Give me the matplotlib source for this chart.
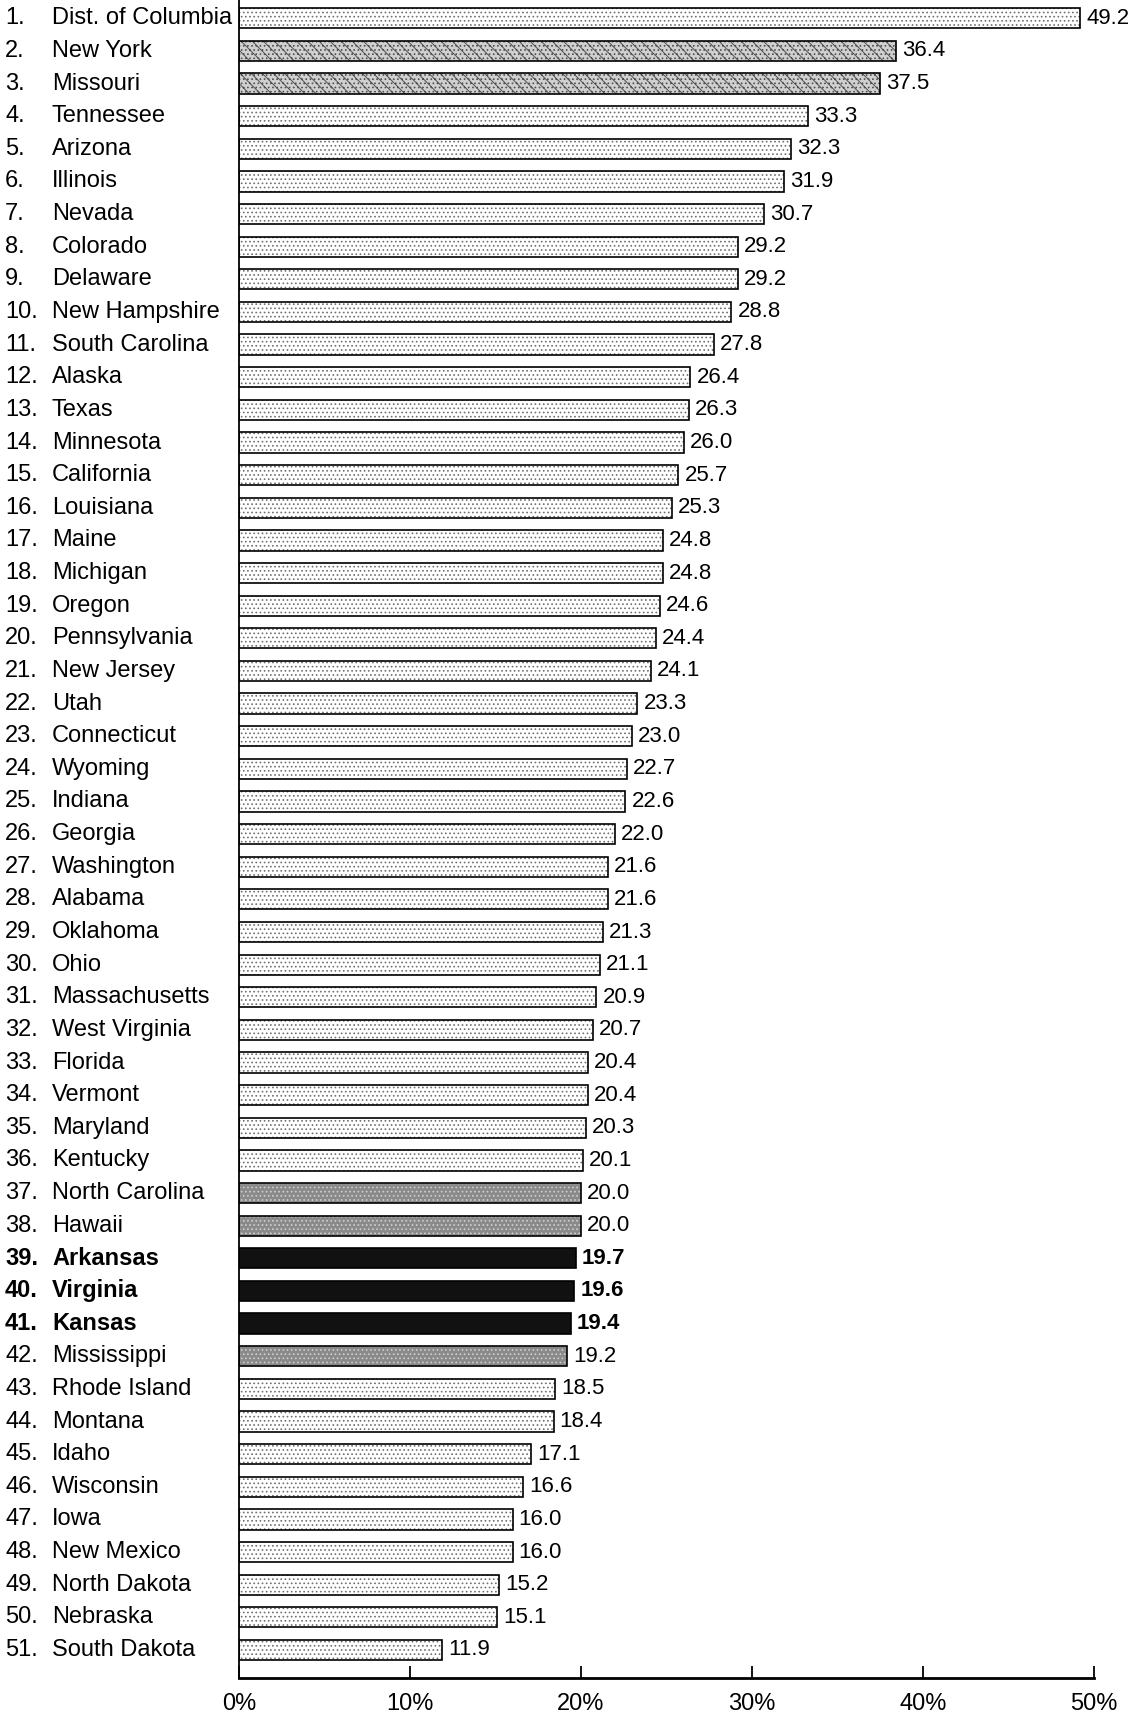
import matplotlib
matplotlib.use("Agg")
import matplotlib.pyplot as plt
from matplotlib.transforms import blended_transform_factory

#
# Data
#

states = ["Dist. of Columbia", "New York", "Missouri", "Tennessee", "Arizona", "Illinois",
          "Nevada", "Colorado", "Delaware", "New Hampshire", "South Carolina", "Alaska",
          "Texas", "Minnesota", "California", "Louisiana", "Maine", "Michigan", "Oregon",
          "Pennsylvania", "New Jersey", "Utah", "Connecticut", "Wyoming", "Indiana",
          "Georgia", "Washington", "Alabama", "Oklahoma", "Ohio", "Massachusetts",
          "West Virginia", "Florida", "Vermont", "Maryland", "Kentucky", "North Carolina",
          "Hawaii", "Arkansas", "Virginia", "Kansas", "Mississippi", "Rhode Island",
          "Montana", "Idaho", "Wisconsin", "Iowa", "New Mexico", "North Dakota",
          "Nebraska", "South Dakota"]

# bar lengths (New York's bar is drawn at ~38.4 although printed as 36.4)
values = [49.2, 38.4, 37.5, 33.3, 32.3, 31.9, 30.7, 29.2, 29.2, 28.8, 27.8, 26.4,
          26.3, 26.0, 25.7, 25.3, 24.8, 24.8, 24.6, 24.4, 24.1, 23.3, 23.0, 22.7, 22.6,
          22.0, 21.6, 21.6, 21.3, 21.1, 20.9, 20.7, 20.4, 20.4, 20.3, 20.1, 20.0,
          20.0, 19.7, 19.6, 19.4, 19.2, 18.5, 18.4, 17.1, 16.6, 16.0, 16.0, 15.2,
          15.1, 11.9]

value_labels = ["49.2", "36.4", "37.5", "33.3", "32.3", "31.9", "30.7", "29.2", "29.2",
                "28.8", "27.8", "26.4", "26.3", "26.0", "25.7", "25.3", "24.8", "24.8",
                "24.6", "24.4", "24.1", "23.3", "23.0", "22.7", "22.6", "22.0", "21.6",
                "21.6", "21.3", "21.1", "20.9", "20.7", "20.4", "20.4", "20.3", "20.1",
                "20.0", "20.0", "19.7", "19.6", "19.4", "19.2", "18.5", "18.4", "17.1",
                "16.6", "16.0", "16.0", "15.2", "15.1", "11.9"]

x_ticks = [0, 10, 20, 30, 40, 50]
x_tick_labels = ["0%", "10%", "20%", "30%", "40%", "50%"]

# shading groups: 0 light stipple, 1 denser stipple, 2 medium gray, 3 black
shade = [0] * len(states)
shade[1] = shade[2] = 1
shade[36] = shade[37] = shade[41] = 2
shade[38] = shade[39] = shade[40] = 3

#
# Figure
#

plt.rcParams['font.family'] = ['Liberation Sans', 'DejaVu Sans']
plt.rcParams['hatch.linewidth'] = 0.7

W, H = 1137, 1714
fig = plt.figure(figsize=(W / 100, H / 100), dpi=100)
ax = fig.add_axes([239 / W, 1 - 1678 / H, (1094 - 239) / W, 1678 / H])

n = len(states)
rows = list(range(n))
ax.set_xlim(0, 50)
ax.set_ylim(n - 1 + 0.86, -0.56)

face = {0: "white", 1: "#d0d0d0", 2: "#8a8a8a", 3: "#111111"}
hatch = {0: "....", 1: "\\\\\\....", 2: "....", 3: None}
hcol = {0: "#707070", 1: "#505050", 2: "#cfcfcf", 3: "#111111"}

for i in rows:
    s = shade[i]
    ax.barh(i, values[i], height=0.62, left=0, color=face[s], hatch=hatch[s],
            edgecolor=hcol[s], linewidth=0)
    ax.barh(i, values[i], height=0.62, left=0, fill=False, edgecolor="black", linewidth=1.2)
    bold = "bold" if s == 3 else "normal"
    ax.text(values[i] + 0.35, i, value_labels[i], va="center", ha="left",
            fontsize=16, fontweight=bold)

trans = blended_transform_factory(fig.transFigure, ax.transData)
for i in rows:
    bold = "bold" if shade[i] == 3 else "normal"
    ax.text(5 / W, i, f"{i + 1}.", transform=trans, va="center", ha="left",
            fontsize=17, fontweight=bold)
    ax.text(52 / W, i, states[i], transform=trans, va="center", ha="left",
            fontsize=17, fontweight=bold)

ax.spines['top'].set_visible(False)
ax.spines['right'].set_visible(False)
ax.spines['left'].set_linewidth(1.3)
ax.spines['bottom'].set_linewidth(2.0)
ax.set_yticks([])
ax.set_xticks(x_ticks)
ax.set_xticklabels(x_tick_labels, fontsize=17)
ax.tick_params(axis='x', direction='in', length=9, width=1.3, pad=11)

fig.savefig("out.png", dpi=100)
